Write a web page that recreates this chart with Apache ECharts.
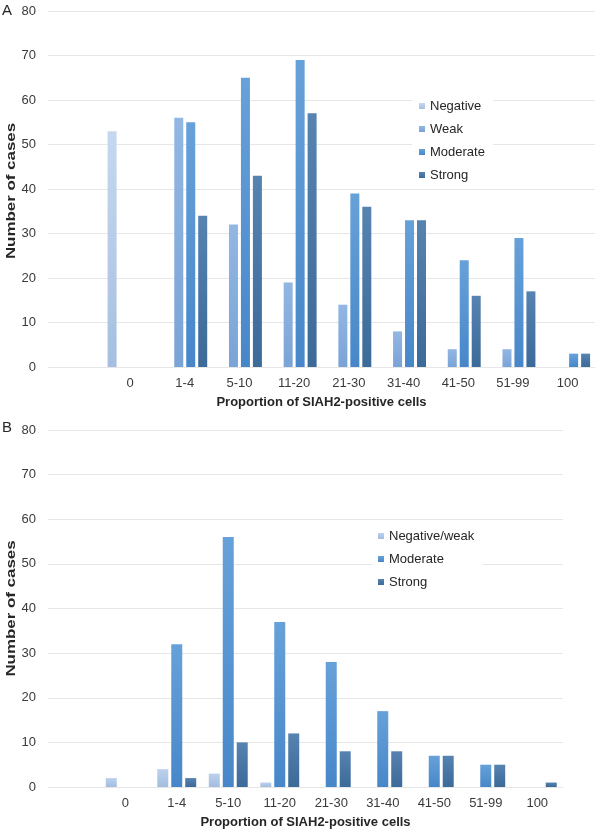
<!DOCTYPE html>
<html>
<head>
<meta charset="utf-8">
<script src="https://cdn.jsdelivr.net/npm/echarts@6/dist/echarts.min.js"></script>
<style>
html,body{margin:0;padding:0;background:#fff;}
#chart{width:600px;height:835px;}
</style>
</head>
<body>
<div id="chart"></div>
<script>
// Categories (first axis slot is an empty category, as in the original)
const categories = ['0', '1-4', '5-10', '11-20', '21-30', '31-40', '41-50', '51-99', '100'];
const yTicks = [0, 10, 20, 30, 40, 50, 60, 70, 80];

// Panel A
const negativeA = [53, 0, 0, 0, 0, 0, 0, 0, 0];
const weakA     = [0, 56, 32, 19, 14, 8, 4, 4, 0];
const moderateA = [0, 55, 65, 69, 39, 33, 24, 29, 3];
const strongA   = [0, 34, 43, 57, 36, 33, 16, 17, 3];

// Panel B
const negWeakB  = [2, 4, 3, 1, 0, 0, 0, 0, 0];
const moderateB = [0, 32, 56, 37, 28, 17, 7, 5, 0];
const strongB   = [0, 2, 10, 12, 8, 8, 7, 5, 1];

const axisCats = [''].concat(categories);
const pad = arr => [null].concat(arr);

function grad(top, bottom) {
  return {type: 'linear', x: 0, y: 0, x2: 0, y2: 1,
    colorStops: [{offset: 0, color: top}, {offset: 1, color: bottom}]};
}
const cNeg = grad('#c6d8ef', '#a6bfe0');
const cWeak = grad('#93b7e3', '#7aa3d6');
const cMod = grad('#67a1d9', '#4787c9');
const cStr = grad('#5683b0', '#3c6a99');
const cNegWeak = grad('#bcd1ec', '#a3bde0');

const gridColor = '#e6e6e6';
const font = 'Liberation Sans, Arial, sans-serif';

function xAxis(gi) {
  return {
    type: 'category', gridIndex: gi, data: axisCats,
    axisTick: {show: false},
    axisLine: {lineStyle: {color: gridColor, width: 1}},
    axisLabel: {color: '#3a3a3a', fontSize: 13, fontFamily: font, margin: 10, interval: 0},
    name: 'Proportion of SIAH2-positive cells', nameLocation: 'middle', nameGap: 29,
    nameMoveOverlap: false,
    nameTextStyle: {color: '#262626', fontSize: 13, fontWeight: 'bold', fontFamily: font}
  };
}
function yAxis(gi) {
  return {
    type: 'value', gridIndex: gi, min: yTicks[0], max: yTicks[yTicks.length - 1], interval: 10,
    axisLine: {show: false}, axisTick: {show: false},
    splitLine: {lineStyle: {color: gridColor, width: 1}},
    axisLabel: {color: '#3a3a3a', fontSize: 13, fontFamily: font, margin: 12}
  };
}
function bar(name, data, color, gi, w, gap) {
  return {
    name: name, type: 'bar', xAxisIndex: gi, yAxisIndex: gi, data: pad(data),
    barWidth: w, barGap: gap, itemStyle: {color: color}, emphasis: {disabled: true}
  };
}
// y-axis title: drawn as real text, stretched along its length as in the original
function yTitle(cy) {
  return {type: 'text', x: 11.5, y: cy, rotation: Math.PI / 2, scaleX: 1.3, scaleY: 1,
    style: {text: 'Number of cases', fontSize: 13, fontWeight: 'bold', fontFamily: font,
      fill: '#262626', align: 'center', verticalAlign: 'middle'}};
}

const chart = echarts.init(document.getElementById('chart'), null, {renderer: 'canvas'});
chart.setOption({
  animation: false,
  backgroundColor: '#fff',
  grid: [
    {left: 48, right: 5, top: 11, bottom: 468, containLabel: false, outerBoundsMode: 'none'},
    {left: 48, right: 37, top: 430, bottom: 48, containLabel: false, outerBoundsMode: 'none'}
  ],
  xAxis: [xAxis(0), xAxis(1)],
  yAxis: [yAxis(0), yAxis(1)],
  legend: [
    {data: ['Negative', 'Weak', 'Moderate', 'Strong'], orient: 'vertical',
     left: 412, top: 94, padding: [5, 8, 5, 7], itemGap: 9, itemWidth: 6, itemHeight: 6,
     backgroundColor: '#fff', icon: 'rect',
     textStyle: {color: '#262626', fontSize: 13, fontFamily: font, lineHeight: 14}},
    {data: ['Negative/weak', 'Moderate', 'Strong'], orient: 'vertical',
     left: 372, top: 524, padding: [5, 8, 5, 6], itemGap: 9, itemWidth: 6, itemHeight: 6,
     backgroundColor: '#fff', icon: 'rect',
     textStyle: {color: '#262626', fontSize: 13, fontFamily: font, lineHeight: 14}}
  ],
  graphic: [
    {type: 'text', left: 2, top: 3, style: {text: 'A', fontSize: 15, fontFamily: font, fill: '#262626'}},
    {type: 'text', left: 2, top: 420, style: {text: 'B', fontSize: 15, fontFamily: font, fill: '#262626'}},
    yTitle(191),
    yTitle(608.5)
  ],
  series: [
    bar('Negative', negativeA, cNeg, 0, 9, '33%'),
    bar('Weak', weakA, cWeak, 0, 9, '33%'),
    bar('Moderate', moderateA, cMod, 0, 9, '33%'),
    bar('Strong', strongA, cStr, 0, 9, '33%'),
    bar('Negative/weak', negWeakB, cNegWeak, 1, 11, '27%'),
    bar('Moderate', moderateB, cMod, 1, 11, '27%'),
    bar('Strong', strongB, cStr, 1, 11, '27%')
  ]
});
</script>
</body>
</html>
